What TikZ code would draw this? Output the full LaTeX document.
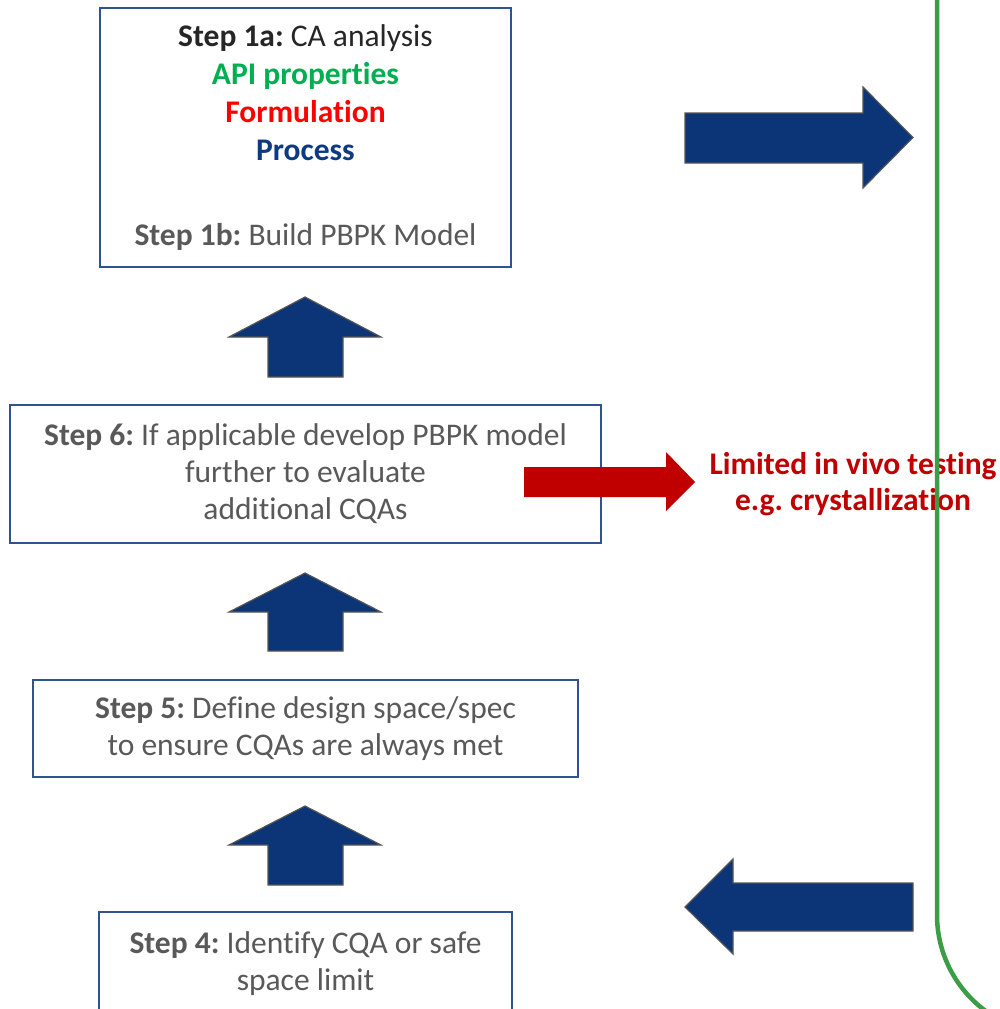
\documentclass[tikz,border=0pt]{standalone}
\usepackage{fontspec}
\setmainfont{Carlito}[Ligatures=NoCommon]
\frenchspacing
\definecolor{boxblue}{HTML}{2F5290}
\definecolor{arrowblue}{HTML}{0B3577}
\definecolor{arrowgray}{HTML}{555555}
\definecolor{textgray}{HTML}{595959}
\definecolor{darktext}{HTML}{262626}
\definecolor{apigreen}{HTML}{00B050}
\definecolor{formred}{HTML}{FF0000}
\definecolor{procblue}{HTML}{0E3A82}
\definecolor{darkred}{HTML}{C00000}
\definecolor{linegreen}{HTML}{3C9D47}
\begin{document}
\begin{tikzpicture}[x=1pt,y=-1pt,
  stepbox/.style={draw=boxblue, line width=1.5pt, fill=white, align=center, inner sep=0pt,
    text=textgray, font=\fontsize{31.5}{37}\selectfont\frenchspacing},
  blockarrow/.style={fill=arrowblue, draw=arrowgray, line width=1.2pt, line join=miter},
  redarrow/.style={fill=darkred, draw=none},
  redtext/.style={text=darkred, font=\fontsize{31.5}{37}\selectfont\bfseries\frenchspacing, align=center, inner sep=0pt},
  greenline/.style={draw=linegreen, line width=4.5pt}
]
\useasboundingbox (0,0) rectangle (999,1009);
\clip (0,0) rectangle (999,1009);

% boxes
\node[stepbox, minimum width=411pt, minimum height=259pt, font=\fontsize{31.5}{38}\selectfont\frenchspacing] (b1) at (305.5,137.5)
  {{\color{darktext}\textbf{Step 1a:} CA analysis}\\
   {\color{apigreen}\textbf{API properties}}\\
   {\color{formred}\textbf{Formulation}}\\
   {\color{procblue}\textbf{Process}}\\[47pt]
   \textbf{Step 1b:} Build PBPK Model};
\node[stepbox, minimum width=591pt, minimum height=138pt] (b6) at (305.5,474)
  {\textbf{Step 6:} If applicable develop PBPK model\\ further to evaluate\\ additional CQAs};
\node[stepbox, minimum width=545pt, minimum height=97pt] (b5) at (305.5,728.5)
  {\textbf{Step 5:} Define design space/spec\\ to ensure CQAs are always met};
\node[stepbox, minimum width=413pt, minimum height=103pt] (b4) at (305.5,963.5)
  {\textbf{Step 4:} Identify CQA or safe\\ space limit};

% up arrows
\draw[blockarrow] (305,297) -- (381,337) -- (343,337) -- (343,377) -- (268,377) -- (268,337) -- (229,337) -- cycle;
\draw[blockarrow] (305,573) -- (381,612) -- (343,612) -- (343,651) -- (268,651) -- (268,612) -- (229,612) -- cycle;
\draw[blockarrow] (305,806) -- (381,845) -- (343,845) -- (343,885) -- (268,885) -- (268,845) -- (229,845) -- cycle;

% right arrow (top)
\draw[blockarrow] (685,113) -- (863,113) -- (863,87) -- (913,137.5) -- (863,188) -- (863,163) -- (685,163) -- cycle;
% left arrow (bottom)
\draw[blockarrow] (913,883) -- (733,883) -- (733,859) -- (685,907) -- (733,954) -- (733,931) -- (913,931) -- cycle;

% red arrow and text
\draw[redarrow] (524,467) -- (666,467) -- (666,452) -- (695,482) -- (666,511) -- (666,497) -- (524,497) -- cycle;
\node[redtext, anchor=base] (lim) at (853,474) {Limited in vivo testing};
\node[redtext, anchor=base] (cry) at (853,510) {e.g. crystallization};

% green boundary
\draw[greenline] (937,-10) -- (937,915) arc[start angle=180, end angle=125, radius=119];
\end{tikzpicture}
\end{document}
